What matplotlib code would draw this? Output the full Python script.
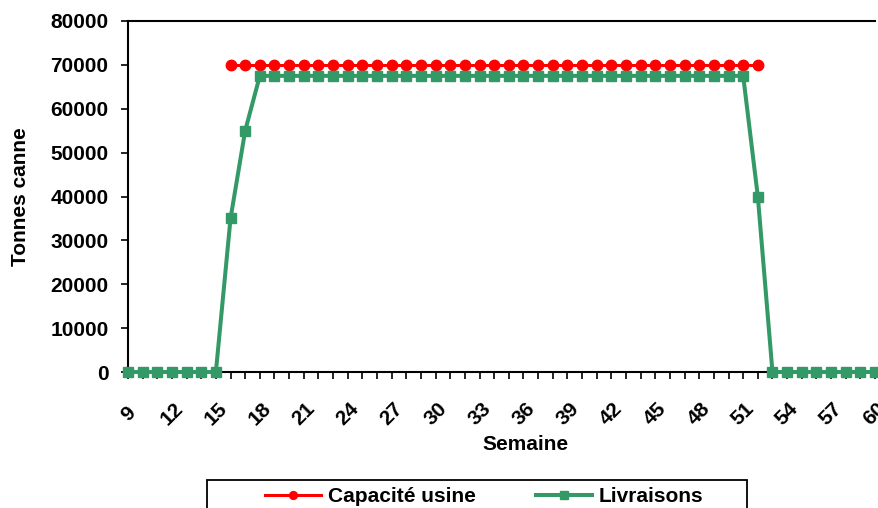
import matplotlib
matplotlib.use("Agg")
from matplotlib import pyplot as plt
from matplotlib.patches import Rectangle
from matplotlib.ticker import MultipleLocator

# semaines 9 à 60
semaines = list(range(9, 61))

# capacité usine : semaines 16 à 52
cap_semaines = list(range(16, 53))
capacite = [70000] * len(cap_semaines)

# livraisons
livraisons = ([0] * 7 + [35000, 55000] + [67500] * 34 + [40000] + [0] * 8)

plt.rcParams['font.family'] = ['Liberation Sans', 'DejaVu Sans']
plt.rcParams['font.weight'] = 'bold'

W, H = 879, 508
fig = plt.figure(figsize=(W / 100, H / 100), dpi=100)
ax = fig.add_axes([128 / W, 1 - 372 / H, 747 / W, 351 / H])

ax.plot(cap_semaines, capacite, color='#ff0000', lw=2.2, marker='o', ms=7.5,
        label='Capacité usine', clip_on=False, zorder=3)
ax.plot(semaines, livraisons, color='#339966', lw=2.9, marker='s', ms=7,
        label='Livraisons', clip_on=False, zorder=4)

ax.set_xlim(9, 60)
ax.set_ylim(0, 80000)
ax.xaxis.set_major_locator(MultipleLocator(3))
ax.xaxis.set_minor_locator(MultipleLocator(1))
ax.yaxis.set_major_locator(MultipleLocator(10000))

ax.spines['right'].set_visible(False)
for s in ['left', 'bottom', 'top']:
    ax.spines[s].set_linewidth(1.5)

ax.tick_params(axis='y', direction='out', length=5, width=1.2, labelsize=15, pad=9)
ax.tick_params(axis='x', which='both', direction='out', length=5, width=1.2)
ax.tick_params(axis='x', which='major', labelsize=15, labelrotation=45, pad=25)
for lab in ax.get_xticklabels() + ax.get_yticklabels():
    lab.set_fontweight('bold')
for lab in ax.get_xticklabels():
    lab.set_va('center')

ax.set_xlabel('Semaine', fontsize=15, fontweight='bold', va='center')
ax.xaxis.set_label_coords((525 - 128) / 747, (372 - 444) / 351)
ax.set_ylabel('Tonnes canne', fontsize=15, fontweight='bold', va='center')
ax.yaxis.set_label_coords((21 - 128) / 747, (372 - 197) / 351)

# cadre de la légende (coupé en bas comme dans l'original)
fig.patches.append(Rectangle((207 / W, -0.02), 540 / W, (508 - 480) / H + 0.02,
                             transform=fig.transFigure, fill=False,
                             edgecolor='black', lw=1.3))
leg = fig.legend(loc='center', ncol=2, frameon=False,
                 bbox_to_anchor=(484 / W, 1 - 497 / H),
                 fontsize=15, handlelength=2.7, handletextpad=0.3,
                 columnspacing=2.9, markerscale=0.75, borderaxespad=0)
for t in leg.get_texts():
    t.set_fontweight('bold')

plt.savefig("out.png", dpi=100)
